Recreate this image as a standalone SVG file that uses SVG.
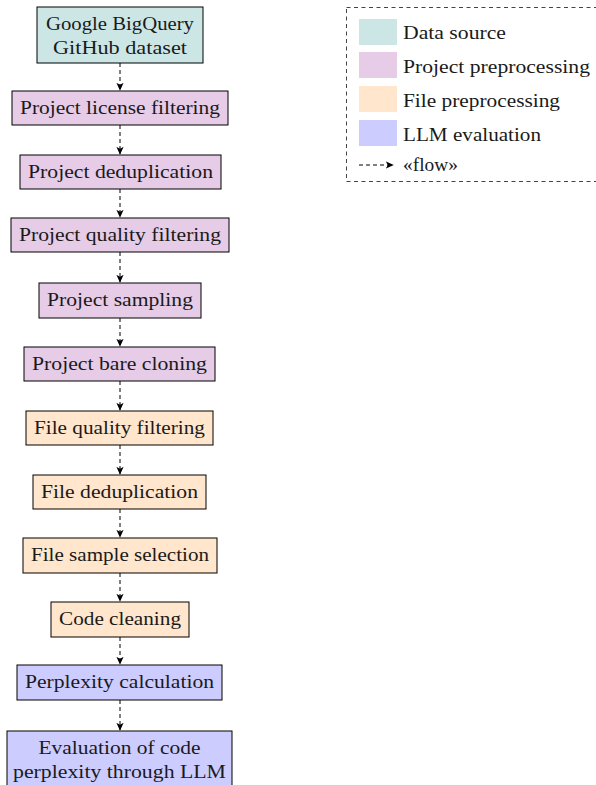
<svg xmlns="http://www.w3.org/2000/svg" width="596" height="785" viewBox="0 0 596 785">
<style>
.n{stroke:#000;stroke-width:1}
.ds{fill:#cce6e6}.pp{fill:#e6cce6}.fp{fill:#ffe6cc}.le{fill:#ccccff}
text{font-family:"Liberation Serif","DejaVu Serif",serif;font-size:18.5px;fill:#1a1a1a}
.c{text-anchor:middle}
.f{stroke:#000;stroke-width:1;stroke-dasharray:4,3;fill:none}
</style>
<defs>
<marker id="ah" viewBox="0 0 10 10" refX="9" refY="5" markerWidth="8" markerHeight="8" markerUnits="userSpaceOnUse" orient="auto">
<path d="M0,0.5 L10,5 L0,9.5 L2.5,5 Z" fill="#000"/>
</marker>
</defs>
<rect width="596" height="785" fill="#fff"/>
<g id="connectors">
<line class="f" x1="120" y1="63" x2="120" y2="90" marker-end="url(#ah)"/>
<line class="f" x1="120" y1="125" x2="120" y2="154" marker-end="url(#ah)"/>
<line class="f" x1="120" y1="189" x2="120" y2="217" marker-end="url(#ah)"/>
<line class="f" x1="120" y1="252" x2="120" y2="282" marker-end="url(#ah)"/>
<line class="f" x1="120" y1="318" x2="120" y2="346" marker-end="url(#ah)"/>
<line class="f" x1="120" y1="381" x2="120" y2="410" marker-end="url(#ah)"/>
<line class="f" x1="120" y1="445" x2="120" y2="474" marker-end="url(#ah)"/>
<line class="f" x1="120" y1="509" x2="120" y2="537" marker-end="url(#ah)"/>
<line class="f" x1="120" y1="573" x2="120" y2="601" marker-end="url(#ah)"/>
<line class="f" x1="120" y1="637" x2="120" y2="664" marker-end="url(#ah)"/>
<line class="f" x1="120" y1="700" x2="120" y2="730" marker-end="url(#ah)"/>
</g>
<g id="n1"><rect class="n ds" x="37" y="7" width="166" height="56"/><text class="c" x="120" y="30" textLength="148" lengthAdjust="spacingAndGlyphs">Google BigQuery</text><text class="c" x="120" y="54" textLength="134" lengthAdjust="spacingAndGlyphs">GitHub dataset</text></g>
<g id="n2"><rect class="n pp" x="12" y="91" width="216" height="34"/><text class="c" x="120" y="114" textLength="200" lengthAdjust="spacingAndGlyphs">Project license filtering</text></g>
<g id="n3"><rect class="n pp" x="20" y="155" width="201" height="34"/><text class="c" x="120.5" y="178" textLength="185" lengthAdjust="spacingAndGlyphs">Project deduplication</text></g>
<g id="n4"><rect class="n pp" x="11" y="218" width="218" height="34"/><text class="c" x="120" y="241" textLength="202" lengthAdjust="spacingAndGlyphs">Project quality filtering</text></g>
<g id="n5"><rect class="n pp" x="39" y="283" width="162" height="35"/><text class="c" x="120" y="306" textLength="146" lengthAdjust="spacingAndGlyphs">Project sampling</text></g>
<g id="n6"><rect class="n pp" x="24" y="347" width="191" height="34"/><text class="c" x="119.5" y="370" textLength="175" lengthAdjust="spacingAndGlyphs">Project bare cloning</text></g>
<g id="n7"><rect class="n fp" x="26" y="411" width="187" height="34"/><text class="c" x="119.5" y="434" textLength="171" lengthAdjust="spacingAndGlyphs">File quality filtering</text></g>
<g id="n8"><rect class="n fp" x="33" y="475" width="173" height="34"/><text class="c" x="119.5" y="498" textLength="157" lengthAdjust="spacingAndGlyphs">File deduplication</text></g>
<g id="n9"><rect class="n fp" x="23" y="538" width="194" height="35"/><text class="c" x="120" y="561" textLength="178" lengthAdjust="spacingAndGlyphs">File sample selection</text></g>
<g id="n10"><rect class="n fp" x="51" y="602" width="138" height="35"/><text class="c" x="120" y="625" textLength="122" lengthAdjust="spacingAndGlyphs">Code cleaning</text></g>
<g id="n11"><rect class="n le" x="17" y="665" width="205" height="35"/><text class="c" x="119.5" y="688" textLength="189" lengthAdjust="spacingAndGlyphs">Perplexity calculation</text></g>
<g id="n12"><rect class="n le" x="7" y="731" width="225" height="60"/><text class="c" x="119.5" y="754" textLength="162" lengthAdjust="spacingAndGlyphs">Evaluation of code</text><text class="c" x="119.5" y="778" textLength="213" lengthAdjust="spacingAndGlyphs">perplexity through LLM</text></g>
<g id="legend">
<rect x="346.5" y="7.5" width="260" height="174" fill="none" stroke="#444" stroke-width="1" stroke-dasharray="4,3.5"/>
<rect class="ds" x="359" y="19" width="38" height="26"/><text x="403" y="39" textLength="103" lengthAdjust="spacingAndGlyphs">Data source</text>
<rect class="pp" x="359" y="52" width="38" height="26"/><text x="403" y="73" textLength="187" lengthAdjust="spacingAndGlyphs">Project preprocessing</text>
<rect class="fp" x="359" y="86" width="38" height="26"/><text x="403" y="107" textLength="157" lengthAdjust="spacingAndGlyphs">File preprocessing</text>
<rect class="le" x="359" y="120" width="38" height="26"/><text x="403" y="141" textLength="138" lengthAdjust="spacingAndGlyphs">LLM evaluation</text>
<line class="f" x1="359" y1="165" x2="393" y2="165" marker-end="url(#ah)"/><text x="403" y="171" textLength="55" lengthAdjust="spacingAndGlyphs">«flow»</text>
</g>
</svg>
